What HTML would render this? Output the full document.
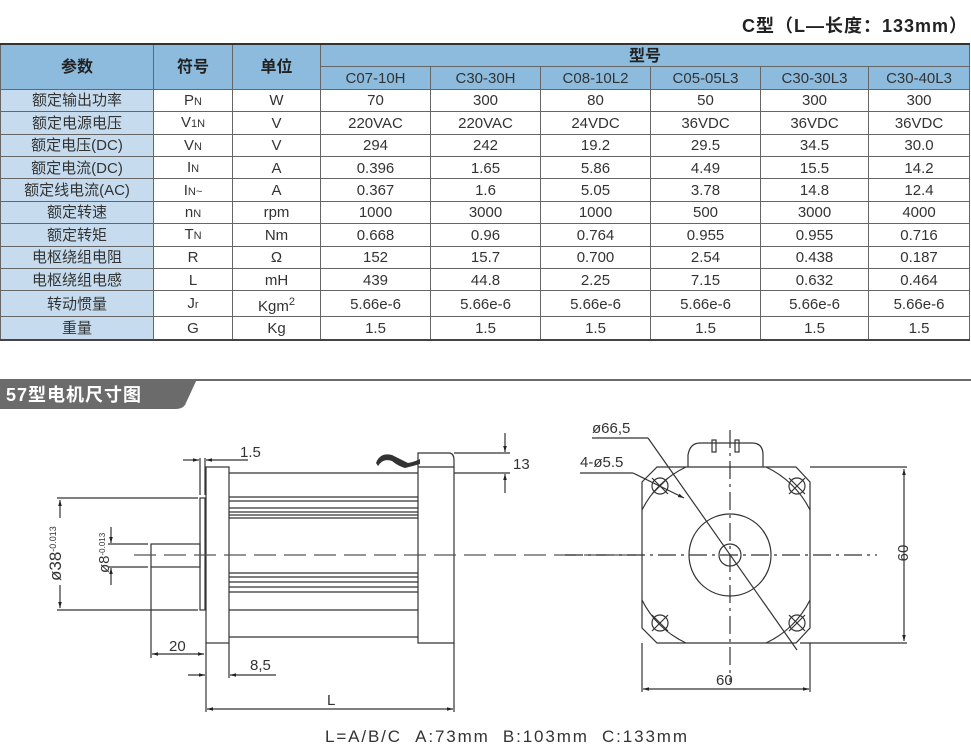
<!DOCTYPE html>
<html><head><meta charset="utf-8"><style>
body{margin:0;width:971px;height:750px;background:#fff;position:relative;overflow:hidden;font-family:"Liberation Sans","Noto Sans CJK SC",sans-serif;}
.title{position:absolute;right:3px;top:12px;font-size:18px;font-weight:bold;color:#222;letter-spacing:1px;}
table{position:absolute;left:0;top:43px;border-collapse:collapse;table-layout:fixed;width:969px;}
td{border:1px solid #666;padding:0;padding-top:2px;text-align:center;font-size:15px;color:#333;height:19.4px;line-height:18px;white-space:nowrap;overflow:hidden;}
tr.h td{background:#8cbbdd;font-weight:bold;color:#222;}
tr.h2 td{background:#8cbbdd;font-weight:normal;color:#333;}
td.p{background:#c6dcee;}
table{border-top:2px solid #333;border-bottom:2px solid #444;}
sub{font-size:11px;vertical-align:baseline;}
.bar{position:absolute;left:0;top:379px;width:971px;height:2px;background:#6b6b6b;}
svg{position:absolute;left:0;top:0;}
</style></head><body>
<div class="title">C型（L—长度：133mm）</div>
<table>
<colgroup><col style="width:153px"><col style="width:79px"><col style="width:88px"><col style="width:110px"><col style="width:110px"><col style="width:110px"><col style="width:110px"><col style="width:108px"><col style="width:101px"></colgroup>
<tr class="h"><td rowspan="2" style="font-size:16px">参数</td><td rowspan="2" style="font-size:16px">符号</td><td rowspan="2" style="font-size:16px">单位</td><td colspan="6" style="font-size:16px">型号</td></tr>
<tr class="h2"><td>C07-10H</td><td>C30-30H</td><td>C08-10L2</td><td>C05-05L3</td><td>C30-30L3</td><td>C30-40L3</td></tr>
<tr><td class="p">额定输出功率</td><td>P<sub>N</sub></td><td>W</td><td>70</td><td>300</td><td>80</td><td>50</td><td>300</td><td>300</td></tr>
<tr><td class="p">额定电源电压</td><td>V<sub>1N</sub></td><td>V</td><td>220VAC</td><td>220VAC</td><td>24VDC</td><td>36VDC</td><td>36VDC</td><td>36VDC</td></tr>
<tr><td class="p">额定电压(DC)</td><td>V<sub>N</sub></td><td>V</td><td>294</td><td>242</td><td>19.2</td><td>29.5</td><td>34.5</td><td>30.0</td></tr>
<tr><td class="p">额定电流(DC)</td><td>I<sub>N</sub></td><td>A</td><td>0.396</td><td>1.65</td><td>5.86</td><td>4.49</td><td>15.5</td><td>14.2</td></tr>
<tr><td class="p">额定线电流(AC)</td><td>I<sub>N~</sub></td><td>A</td><td>0.367</td><td>1.6</td><td>5.05</td><td>3.78</td><td>14.8</td><td>12.4</td></tr>
<tr><td class="p">额定转速</td><td>n<sub>N</sub></td><td>rpm</td><td>1000</td><td>3000</td><td>1000</td><td>500</td><td>3000</td><td>4000</td></tr>
<tr><td class="p">额定转矩</td><td>T<sub>N</sub></td><td>Nm</td><td>0.668</td><td>0.96</td><td>0.764</td><td>0.955</td><td>0.955</td><td>0.716</td></tr>
<tr><td class="p">电枢绕组电阻</td><td>R</td><td>Ω</td><td>152</td><td>15.7</td><td>0.700</td><td>2.54</td><td>0.438</td><td>0.187</td></tr>
<tr><td class="p">电枢绕组电感</td><td>L</td><td>mH</td><td>439</td><td>44.8</td><td>2.25</td><td>7.15</td><td>0.632</td><td>0.464</td></tr>
<tr><td class="p">转动惯量</td><td>J<sub>r</sub></td><td>Kgm<sup style="font-size:11px">2</sup></td><td>5.66e-6</td><td>5.66e-6</td><td>5.66e-6</td><td>5.66e-6</td><td>5.66e-6</td><td>5.66e-6</td></tr>
<tr><td class="p">重量</td><td>G</td><td>Kg</td><td>1.5</td><td>1.5</td><td>1.5</td><td>1.5</td><td>1.5</td><td>1.5</td></tr>
</table>
<div class="bar"></div>
<svg width="971" height="750" viewBox="0 0 971 750">
<defs><marker id="a" viewBox="0 0 10 10" refX="10" refY="5" markerWidth="7" markerHeight="5" orient="auto-start-reverse"><path d="M0,2 L10,5 L0,8 z" fill="#222"/></marker></defs>
<path d="M0,379 H197 L185,405 Q182,409 176,409 H0 Z" fill="#6b6b6b"/>
<text x="6" y="401" font-size="18" font-weight="bold" fill="#fff" letter-spacing="1">57型电机尺寸图</text>
<g stroke="#333" stroke-width="1.2" fill="none">
<rect x="200" y="498" width="5" height="112"/>
<line x1="200" y1="458" x2="200" y2="495"/><line x1="205" y1="458" x2="205" y2="495"/>
<rect x="206" y="467" width="23" height="176"/>
<line x1="229" y1="473" x2="418" y2="473"/><line x1="229" y1="637" x2="418" y2="637"/>
<line x1="229" y1="497" x2="418" y2="497"/><line x1="229" y1="501" x2="418" y2="501"/><line x1="229" y1="508" x2="418" y2="508"/><line x1="229" y1="512" x2="418" y2="512"/><line x1="229" y1="515" x2="418" y2="515"/><line x1="229" y1="518" x2="418" y2="518"/>
<line x1="229" y1="573" x2="418" y2="573"/><line x1="229" y1="577" x2="418" y2="577"/><line x1="229" y1="582" x2="418" y2="582"/><line x1="229" y1="587" x2="418" y2="587"/><line x1="229" y1="592" x2="418" y2="592"/>
<line x1="229" y1="610" x2="418" y2="610"/>
<path d="M418,643 V453 H450 Q454,454 454,460 V643 Z"/>
<line x1="418" y1="467" x2="454" y2="467"/>
<rect x="151" y="544" width="49" height="23"/>
<line x1="57" y1="498" x2="198" y2="498"/><line x1="57" y1="610" x2="198" y2="610"/>
<line x1="60" y1="500" x2="60" y2="518" marker-start="url(#a)"/><line x1="60" y1="585" x2="60" y2="608" marker-end="url(#a)"/>
<line x1="108" y1="544" x2="148" y2="544"/><line x1="108" y1="567" x2="148" y2="567"/>
<line x1="111" y1="527" x2="111" y2="543" marker-end="url(#a)"/><line x1="111" y1="585" x2="111" y2="568" marker-end="url(#a)"/>
<line x1="151" y1="567" x2="151" y2="658"/>
<line x1="152" y1="654" x2="204" y2="654" marker-start="url(#a)" marker-end="url(#a)"/>
<line x1="206" y1="643" x2="206" y2="712"/><line x1="229" y1="643" x2="229" y2="678"/><line x1="454" y1="643" x2="454" y2="712"/>
<line x1="188" y1="675" x2="205" y2="675" marker-end="url(#a)"/><line x1="276" y1="675" x2="230" y2="675" marker-end="url(#a)"/>
<line x1="207" y1="709" x2="453" y2="709" marker-start="url(#a)" marker-end="url(#a)"/>
<line x1="183" y1="460" x2="199" y2="460" marker-end="url(#a)"/><line x1="248" y1="460" x2="206" y2="460" marker-end="url(#a)"/>
<line x1="454" y1="453" x2="510" y2="453"/><line x1="454" y1="473" x2="510" y2="473"/>
<line x1="505" y1="433" x2="505" y2="452" marker-end="url(#a)"/><line x1="505" y1="493" x2="505" y2="474" marker-end="url(#a)"/>
<line x1="134" y1="555" x2="640" y2="555" stroke-dasharray="22,8" stroke="#555"/>
<path d="M657,467 H796 L810,482 V628 L796,643 H657 L642,628 V482 Z"/>
<path d="M688,467 V455 Q690,443 700,443 H752 Q763,443 763,455 V467"/>
<rect x="712" y="440" width="4" height="12"/><rect x="735" y="440" width="4" height="12"/>
<path d="M642,510 A93,93 0 0 1 686,467 M766,467 A93,93 0 0 1 810,510 M810,600 A93,93 0 0 1 766,643 M686,643 A93,93 0 0 1 642,600"/>
<circle cx="660" cy="486" r="8"/><circle cx="797" cy="486" r="8"/><circle cx="660" cy="623" r="8"/><circle cx="797" cy="623" r="8"/>
<path d="M652,478 l16,16 M668,478 l-16,16 M789,478 l16,16 M805,478 l-16,16 M652,615 l16,16 M668,615 l-16,16 M789,615 l16,16 M805,615 l-16,16"/>
<circle cx="730" cy="555" r="41"/><circle cx="730" cy="555" r="11"/>
<line x1="730" y1="430" x2="730" y2="682" stroke-dasharray="18,5,3,5"/>
<line x1="565" y1="555" x2="877" y2="555" stroke-dasharray="18,5,3,5"/>
<line x1="592" y1="438" x2="648" y2="438"/><line x1="648" y1="438" x2="797" y2="650"/>
<line x1="580" y1="473" x2="633" y2="473"/><line x1="633" y1="473" x2="684" y2="498" marker-end="url(#a)"/>
<line x1="810" y1="467" x2="907" y2="467"/><line x1="800" y1="643" x2="907" y2="643"/>
<line x1="904" y1="469" x2="904" y2="641" marker-start="url(#a)" marker-end="url(#a)"/>
<line x1="642" y1="643" x2="642" y2="692"/><line x1="810" y1="643" x2="810" y2="692"/>
<line x1="643" y1="689" x2="809" y2="689" marker-start="url(#a)" marker-end="url(#a)"/>
</g>
<path d="M376,463 Q380,452 392,455 Q402,460 408,463 Q414,462 420,459 L420,464 Q413,466 405,468 Q398,466 392,461 Q383,458 378,466 Z" fill="#333"/>
<g font-family="Liberation Sans, sans-serif" fill="#333" font-size="15">
<text x="240" y="457">1.5</text>
<text x="513" y="469">13</text>
<text x="169" y="651">20</text>
<text x="250" y="670">8,5</text>
<text x="327" y="705">L</text>
<text x="592" y="433">ø66,5</text>
<text x="580" y="467">4-ø5.5</text>
<text x="716" y="685">60</text>
<text transform="translate(903,553) rotate(-90)" text-anchor="middle" x="0" y="5">60</text>
<text transform="translate(56,553) rotate(-90)" x="-28" y="5" font-size="17">ø38<tspan font-size="9" dy="-5">-0.013</tspan></text>
<text transform="translate(106,555) rotate(-90)" x="-18" y="3" font-size="15">ø8<tspan font-size="8" dy="-4">-0.013</tspan></text>
<text x="325" y="742" font-size="17" textLength="362" lengthAdjust="spacing">L=A/B/C&#160;&#160;A:73mm&#160;&#160;B:103mm&#160;&#160;C:133mm</text>
</g>
</svg>
</body></html>
